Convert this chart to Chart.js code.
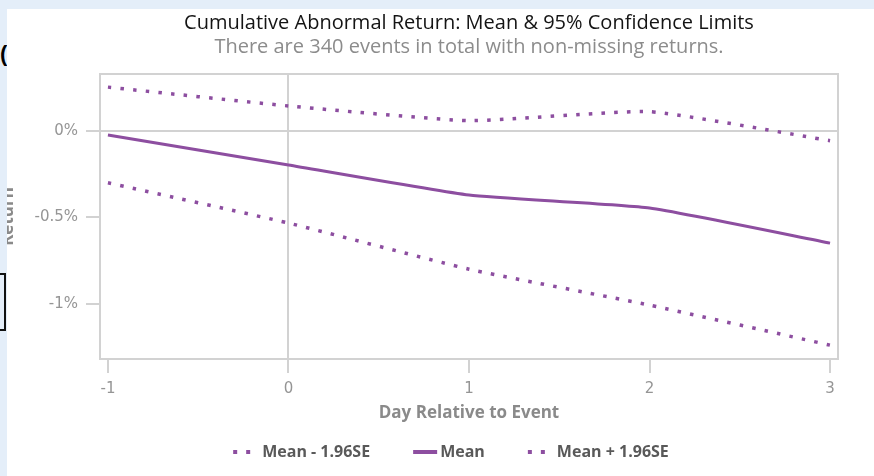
<!DOCTYPE html>
<html>
<head>
<meta charset="utf-8">
<script src="https://cdn.jsdelivr.net/npm/chart.js@4.4.1/dist/chart.umd.min.js"></script>
<style>
  html, body { margin: 0; padding: 0; }
  body { width: 874px; height: 476px; background: #e4eef9; position: relative; overflow: hidden; }
  .edge-char { position: absolute; left: 0px; top: 41px; font: bold 22px "Liberation Sans", sans-serif; color: #000; }
  .edge-box { position: absolute; left: -22px; top: 273px; width: 26px; height: 54px; border: 2px solid #111; border-left: none; }
  #panel { position: absolute; left: 7px; top: 9px; width: 867px; height: 467px; background: #fff; overflow: hidden; }
  #wrap { position: absolute; left: -13px; top: -9px; width: 893px; height: 476px; }
</style>
</head>
<body>
<span class="edge-char">(</span>
<div class="edge-box"></div>
<div id="panel"><div id="wrap"><canvas id="car"></canvas></div></div>
<script>
// Event window (days relative to the event)
const days = [-1, 0, 1, 2, 3];
// Cumulative abnormal return, in percent
const meanCar  = [-0.023, -0.197, -0.371, -0.446, -0.649];
const lowerCar = [-0.300, -0.533, -0.800, -1.008, -1.240]; // mean - 1.96 SE
const upperCar = [ 0.254,  0.145,  0.060,  0.112, -0.056]; // mean + 1.96 SE
// Axis ticks
const yTickValues = [-1, -0.5, 0];
const yTickLabels = ['-1%', '-0.5%', '0%'];
const xTickLabels = ['-1', '0', '1', '2', '3'];
const seriesNames = ['Mean - 1.96SE', 'Mean', 'Mean + 1.96SE'];

const PURPLE = '#8d4ea0';
const GRID = '#d2d2d2';
const AXIS_TEXT = '#959595';
const TITLE_FONT = '"Open Sans", sans-serif';
const TICK_FONT = '"DejaVu Sans", sans-serif';

const toPoints = vals => days.map((d, i) => ({ x: d, y: vals[i] }));

// Draws the top and right sides of the plot frame
const frame = {
  id: 'frame',
  beforeDatasetsDraw(chart) {
    const { ctx, chartArea: a } = chart;
    ctx.save();
    ctx.strokeStyle = GRID;
    ctx.lineWidth = 2;
    ctx.beginPath();
    ctx.moveTo(a.left, a.top);
    ctx.lineTo(a.right, a.top);
    ctx.lineTo(a.right, a.bottom);
    ctx.stroke();
    ctx.restore();
  }
};

// Legend row under the axis title
const legendRow = {
  id: 'legendRow',
  afterDraw(chart) {
    const { ctx, chartArea: a } = chart;
    ctx.save();
    ctx.font = 'bold 16px ' + TITLE_FONT;
    ctx.textBaseline = 'middle';
    const y = 452;
    const kinds = ['dots', 'line', 'dots'];
    const markerW = { dots: 17, line: 24 };
    const markerGap = { dots: 12, line: 3 };
    const itemGap = 43;
    const widths = seriesNames.map((n, i) => markerW[kinds[i]] + markerGap[kinds[i]] + ctx.measureText(n).width);
    const total = widths.reduce((s, w) => s + w, 0) + itemGap * (widths.length - 1);
    let x = (a.left + a.right) / 2 - 18 - total / 2;
    seriesNames.forEach((name, i) => {
      const k = kinds[i];
      ctx.fillStyle = PURPLE;
      if (k === 'dots') {
        ctx.fillRect(x, y - 2, 4, 4);
        ctx.fillRect(x + 13, y - 2, 4, 4);
      } else {
        ctx.fillRect(x, y - 2, 24, 4);
      }
      ctx.fillStyle = '#595959';
      ctx.fillText(name, x + markerW[k] + markerGap[k], y);
      x += widths[i] + itemGap;
    });
    ctx.restore();
  }
};

const lineStyle = (vals, label, dotted) => ({
  label,
  data: toPoints(vals),
  borderColor: PURPLE,
  backgroundColor: PURPLE,
  borderWidth: dotted ? 3.5 : 3,
  borderDash: dotted ? [3.5, 9.2] : [],
  borderCapStyle: 'butt',
  pointRadius: 0,
  tension: 0.15,
  fill: false
});

new Chart(document.getElementById('car'), {
  type: 'line',
  data: {
    datasets: [
      lineStyle(lowerCar, seriesNames[0], true),
      lineStyle(meanCar, seriesNames[1], false),
      lineStyle(upperCar, seriesNames[2], true)
    ]
  },
  plugins: [frame, legendRow],
  options: {
    responsive: true,
    maintainAspectRatio: false,
    animation: false,
    events: [],
    layout: { padding: { left: 0, right: 49, top: 0, bottom: 0 } },
    plugins: {
      legend: { display: false },
      tooltip: { enabled: false },
      title: {
        display: true,
        fullSize: false,
        text: 'Cumulative Abnormal Return: Mean & 95% Confidence Limits',
        color: '#141414',
        font: { family: TITLE_FONT, size: 20, weight: 'normal', lineHeight: 1.1 },
        padding: { top: 12, bottom: 0 }
      },
      subtitle: {
        display: true,
        fullSize: false,
        text: 'There are 340 events in total with non-missing returns.',
        color: '#8c8c8c',
        font: { family: TITLE_FONT, size: 20, weight: 'normal', lineHeight: 1.1 },
        padding: { top: 2, bottom: 16 }
      }
    },
    scales: {
      x: {
        type: 'linear',
        min: -1.044,
        max: 3.044,
        afterBuildTicks: s => { s.ticks = days.map(v => ({ value: v })); },
        afterFit: s => { s.height = 117; },
        ticks: {
          autoSkip: false,
          maxRotation: 0,
          padding: 7,
          color: AXIS_TEXT,
          font: { family: TICK_FONT, size: 15 },
          callback: (v) => xTickLabels[days.indexOf(v)]
        },
        grid: {
          color: c => (c.tick && c.tick.value === 0 ? GRID : 'rgba(0,0,0,0)'),
          tickColor: GRID,
          tickLength: 14,
          lineWidth: 2
        },
        border: { display: true, color: GRID, width: 2 },
        title: {
          display: true,
          text: 'Day Relative to Event',
          color: '#8a8a8a',
          font: { family: TITLE_FONT, size: 17, weight: 'bold', lineHeight: 1.2 },
          padding: { top: 0, bottom: 52.8 }
        }
      },
      y: {
        min: -1.32,
        max: 0.33,
        afterBuildTicks: s => { s.ticks = yTickValues.map(v => ({ value: v })); },
        afterFit: s => { s.width = 106; },
        ticks: {
          padding: 8,
          color: AXIS_TEXT,
          font: { family: TICK_FONT, size: 15 },
          callback: (v) => yTickLabels[yTickValues.indexOf(v)]
        },
        grid: {
          color: c => (c.tick && c.tick.value === 0 ? GRID : 'rgba(0,0,0,0)'),
          tickColor: GRID,
          tickLength: 14,
          lineWidth: 2
        },
        border: { display: true, color: GRID, width: 2 },
        title: {
          display: true,
          text: 'Return',
          color: '#8a8a8a',
          font: { family: TITLE_FONT, size: 17, weight: 'bold', lineHeight: 1.2 },
          padding: { top: 4, bottom: 0 }
        }
      }
    }
  }
});
</script>
</body>
</html>
